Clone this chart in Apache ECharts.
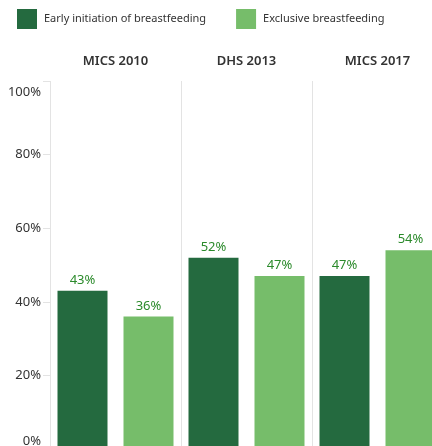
<!DOCTYPE html>
<html>
<head>
<meta charset="utf-8">
<script src="https://cdn.jsdelivr.net/npm/echarts@6/dist/echarts.min.js"></script>
<style>
  html, body { margin: 0; padding: 0; background: #fff; }
  #chart { width: 432px; height: 446px; }
</style>
</head>
<body>
<div id="chart"></div>
<script>
// survey rounds and the two indicators (percent)
const surveys = ['MICS 2010', 'DHS 2013', 'MICS 2017'];
const earlyInitiation = [43, 52, 47];
const exclusiveBf = [36, 47, 54];
const yTicks = [0, 20, 40, 60, 80, 100];

const DARK = '#246a3f';
const LIGHT = '#76bd6a';
const FONT = 'Noto Sans';

var chart = echarts.init(document.getElementById('chart'));

// shift the edge labels inward like the original
function yLabel(value) {
  if (value === 100) return '{top|' + value + '%}';
  if (value === 0) return '{bot|' + value + '%}';
  return value + '%';
}

var barLabel = {
  show: true,
  position: 'top',
  distance: 4,
  color: '#2b8a2b',
  fontFamily: FONT,
  fontSize: 13,
  formatter: (p) => p.value + '%'
};

let opts = {
  animation: false,
  legend: {
    left: 12,
    top: 4,
    itemWidth: 20,
    itemHeight: 20,
    itemGap: 30,
    icon: 'rect',
    textStyle: {
      fontFamily: FONT,
      fontSize: 11,
      color: '#333',
      padding: [0, 0, 0, 2]
    },
    data: ['Early initiation of breastfeeding', 'Exclusive breastfeeding']
  },
  grid: {
    left: 50,
    top: 81,
    width: 393,
    height: 368,
    outerBoundsMode: 'none',
    containLabel: false
  },
  xAxis: {
    type: 'category',
    position: 'top',
    data: surveys,
    axisLine: { show: true, lineStyle: { color: '#d9d9d9', width: 1 } },
    axisTick: {
      show: true,
      inside: false,
      length: 39,
      lineStyle: { color: '#e3e3e3', width: 1 }
    },
    splitLine: { show: true, lineStyle: { color: '#e3e3e3', width: 1 } },
    axisLabel: {
      margin: 13,
      fontFamily: FONT,
      fontSize: 13,
      fontWeight: 600,
      color: '#333'
    }
  },
  yAxis: {
    type: 'value',
    min: yTicks[0],
    max: yTicks[yTicks.length - 1],
    interval: 20,
    axisLine: { show: false },
    axisTick: { show: true, length: 7, lineStyle: { color: '#e3e3e3' } },
    splitLine: { show: false },
    axisLabel: {
      margin: 9,
      fontFamily: FONT,
      fontSize: 13,
      color: '#333',
      formatter: yLabel,
      rich: {
        top: { padding: [22, 0, 0, 0], fontFamily: FONT, fontSize: 13, color: '#333' },
        bot: { padding: [0, 0, 16, 0], fontFamily: FONT, fontSize: 13, color: '#333' }
      }
    }
  },
  series: [
    {
      name: 'Early initiation of breastfeeding',
      type: 'bar',
      data: earlyInitiation,
      barWidth: 50,
      barGap: '32%',
      itemStyle: { color: DARK },
      label: barLabel
    },
    {
      name: 'Exclusive breastfeeding',
      type: 'bar',
      data: exclusiveBf,
      barWidth: 50,
      itemStyle: { color: LIGHT },
      label: barLabel
    }
  ]
};

chart.setOption(opts);
</script>
</body>
</html>
